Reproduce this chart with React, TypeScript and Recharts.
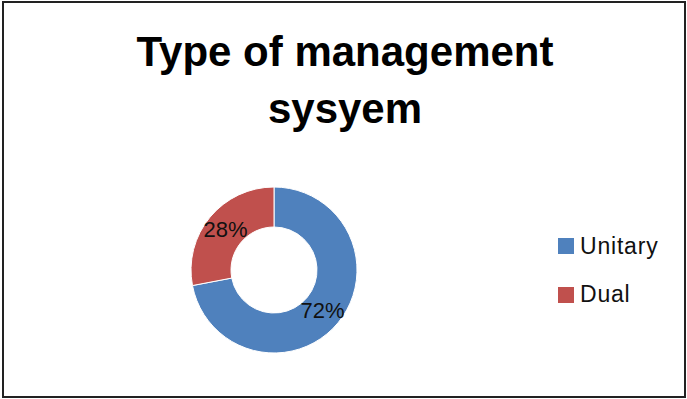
import { PieChart, Pie, Cell, Legend } from "recharts";

const categories = ["Unitary", "Dual"];
const shares = [72, 28];
const colors = ["#4F81BD", "#C0504D"];
const titleLines = ["Type of management", "sysyem"];

const data = categories.map((name, i) => ({ name, value: shares[i] }));

const RADIAN = Math.PI / 180;
const FONT = "Liberation Sans, Arial, sans-serif";

const renderLabel = (props: any) => {
  const { cx, cy, midAngle, innerRadius, outerRadius, value } = props;
  const r = (innerRadius + outerRadius) / 2;
  const x = cx + r * Math.cos(-midAngle * RADIAN);
  const y = cy + r * Math.sin(-midAngle * RADIAN);
  return (
    <text x={x} y={y} fill="#111" textAnchor="middle" dominantBaseline="central"
      fontFamily={FONT} fontSize={22}>
      {value}%
    </text>
  );
};

// keep legend in category order (recharts sorts by default)
const renderLegend = (props: any) => {
  const payload = [...(props.payload || [])].sort(
    (a: any, b: any) => categories.indexOf(a.value) - categories.indexOf(b.value)
  );
  return (
    <div>
      {payload.map((entry: any) => (
        <div key={entry.value} style={{ display: "flex", alignItems: "center", height: 48.5 }}>
          <span style={{ width: 16, height: 16, background: entry.color, display: "inline-block", marginRight: 6 }}/>
          <span style={{ fontFamily: FONT, fontSize: 23, letterSpacing: 0.8, color: "#111" }}>{entry.value}</span>
        </div>
      ))}
    </div>
  );
};

export default function App() {
  return (
    <div style={{ position: "fixed", left: 0, top: 0, width: 687, height: 399, background: "#fff" }}>
      <div style={{
        position: "absolute", left: 2, top: 1, width: 680, height: 393,
        border: "2px solid #222", boxSizing: "content-box",
      }}/>
      <div style={{
        position: "absolute", left: 0, top: 23, width: 690, textAlign: "center",
        fontFamily: FONT, fontWeight: "bold",
        fontSize: 42, lineHeight: "57px", color: "#000",
      }}>
        {titleLines.map((t) => <div key={t}>{t}</div>)}
      </div>
      <div style={{ position: "absolute", left: 0, top: 0 }}>
        <PieChart width={687} height={399} margin={{ top: 0, right: 0, bottom: 0, left: 0 }}>
          <Pie data={data} dataKey="value" nameKey="name" cx={274} cy={270}
            innerRadius={43} outerRadius={83} startAngle={90} endAngle={-270}
            stroke="#fff" strokeWidth={1} label={renderLabel} labelLine={false}
            isAnimationActive={false}>
            {data.map((d, i) => <Cell key={d.name} fill={colors[i]}/>)}
          </Pie>
          <Legend layout="vertical" content={renderLegend}
            wrapperStyle={{ left: 558, top: 222, width: 125 }}/>
        </PieChart>
      </div>
    </div>
  );
}
